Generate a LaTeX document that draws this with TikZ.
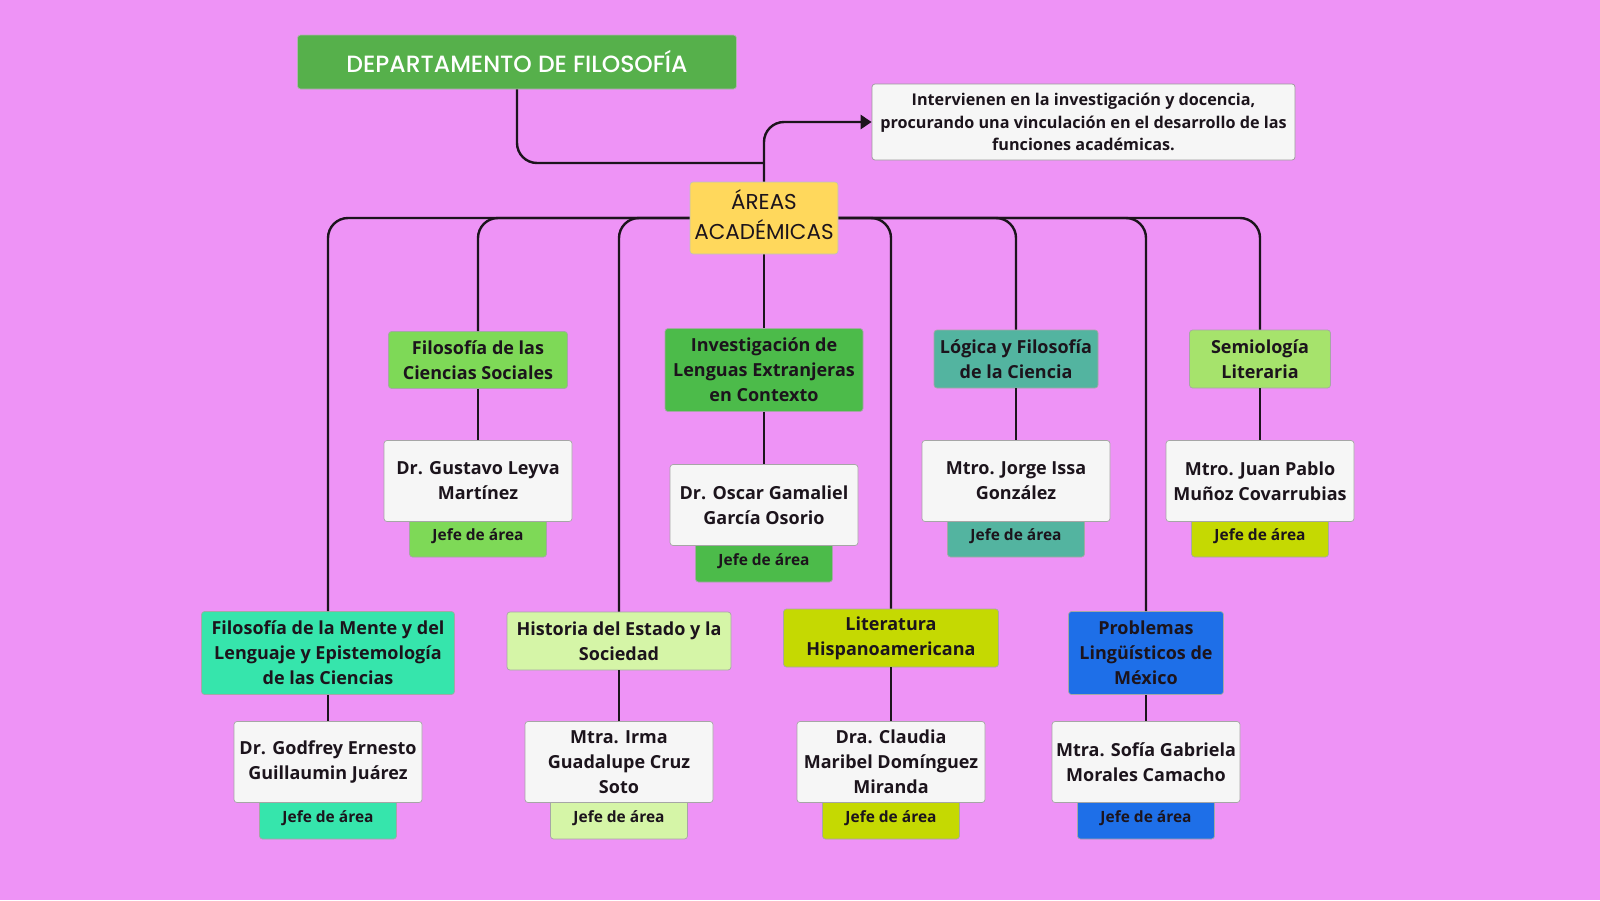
\documentclass[tikz,border=0pt]{standalone}
\usepackage{fontspec}
\setmainfont{Open Sans}
\newfontfamily\popfont{Poppins}
\newfontfamily\popmed{Poppins}[UprightFont={* Medium}]
\usetikzlibrary{arrows.meta}
\definecolor{bg}{HTML}{EE93F6}
\definecolor{titlegreen}{HTML}{56B04B}
\definecolor{areasyellow}{HTML}{FFD85C}
\definecolor{boxwhite}{HTML}{F6F6F6}
\definecolor{cA}{HTML}{7ED957}
\definecolor{cB}{HTML}{4CBB4A}
\definecolor{cC}{HTML}{53B4A0}
\definecolor{cD}{HTML}{A6E36C}
\definecolor{cE}{HTML}{36E5AC}
\definecolor{cF}{HTML}{D5F5A7}
\definecolor{cG}{HTML}{C5D902}
\definecolor{cH}{HTML}{1E6FE8}
\definecolor{ink}{HTML}{1C141C}
\tikzset{
  boxbase/.style={rounded corners=3pt, draw=black!35, line width=0.7pt, align=center, inner sep=0pt, text=ink},
  areabox/.style={boxbase, font=\bfseries\fontsize{18}{25}\selectfont},
  namebox/.style={boxbase, fill=boxwhite, minimum width=188pt, minimum height=81pt, font=\bfseries\fontsize{18}{25}\selectfont},
  tabbox/.style={boxbase, minimum width=137pt, minimum height=40pt, font=\bfseries\fontsize{15.5}{17}\selectfont, text depth=0pt},
  conn/.style={draw=ink, line width=2.4pt, rounded corners=20pt},
  sub/.style={draw=ink, line width=1.8pt},
}
\begin{document}
\begin{tikzpicture}[x=1pt,y=-1pt]
\useasboundingbox[fill=bg] (0,0) rectangle (1600,900);

% top nodes
\node[boxbase, fill=titlegreen, draw=black!30, minimum width=439pt, minimum height=54pt, text=white, font=\popmed\fontsize{23.5}{26}\selectfont] (title) at (517,62) {\raisebox{2pt}{DEPARTAMENTO DE FILOSOFÍA}};
\node[boxbase, fill=boxwhite, draw=black!40, minimum width=423pt, minimum height=76pt, font=\bfseries\fontsize{16.2}{22.5}\selectfont] (note) at (1083.5,122) {Intervienen en la investigación y docencia,\\procurando una vinculación en el desarrollo de las\\funciones académicas.};

% row 1 areas
\node[areabox, fill=cA, minimum width=179pt, minimum height=57pt] (a1) at (478,360) {Filosofía de las\\Ciencias Sociales};
\node[areabox, fill=cB, minimum width=198pt, minimum height=83pt] (a2) at (764,370) {Investigación de\\Lenguas Extranjeras\\en Contexto};
\node[areabox, fill=cC, minimum width=164pt, minimum height=58pt] (a3) at (1016,359) {Lógica y Filosofía\\de la Ciencia};
\node[areabox, fill=cD, minimum width=141pt, minimum height=58pt] (a4) at (1260,359) {Semiología\\Literaria};

% row 2 areas
\node[areabox, fill=cE, minimum width=253pt, minimum height=83pt] (b1) at (328,653) {Filosofía de la Mente y del\\Lenguaje y Epistemología\\de las Ciencias};
\node[areabox, fill=cF, minimum width=224pt, minimum height=58pt] (b2) at (619,641) {Historia del Estado y la\\Sociedad};
\node[areabox, fill=cG, minimum width=215pt, minimum height=58pt] (b3) at (891,638) {Literatura\\Hispanoamericana};
\node[areabox, fill=cH, minimum width=155pt, minimum height=83pt] (b4) at (1146,653) {Problemas\\Lingüísticos de\\México};

% tabs (behind name boxes)
\node[tabbox, fill=cA] (t1) at (478,537) {\raisebox{4pt}{Jefe de área}};
\node[tabbox, fill=cB] (t2) at (764,562) {\raisebox{4pt}{Jefe de área}};
\node[tabbox, fill=cC] (t3) at (1016,537) {\raisebox{4pt}{Jefe de área}};
\node[tabbox, fill=cG] (t4) at (1260,537) {\raisebox{4pt}{Jefe de área}};
\node[tabbox, fill=cE] (u1) at (328,819) {\raisebox{4pt}{Jefe de área}};
\node[tabbox, fill=cF] (u2) at (619,819) {\raisebox{4pt}{Jefe de área}};
\node[tabbox, fill=cG] (u3) at (891,819) {\raisebox{4pt}{Jefe de área}};
\node[tabbox, fill=cH] (u4) at (1146,819) {\raisebox{4pt}{Jefe de área}};

% row 1 names
\node[namebox] (n1) at (478,481) {Dr. Gustavo Leyva\\Martínez};
\node[namebox] (n2) at (764,505) {Dr. Oscar Gamaliel\\García Osorio};
\node[namebox] (n3) at (1016,481) {Mtro. Jorge Issa\\González};
\node[namebox] (n4) at (1260,481) {Mtro. Juan Pablo\\Muñoz Covarrubias};

% row 2 names
\node[namebox] (m1) at (328,762) {Dr. Godfrey Ernesto\\Guillaumin Juárez};
\node[namebox] (m2) at (619,762) {Mtra. Irma\\Guadalupe Cruz\\Soto};
\node[namebox] (m3) at (891,762) {Dra. Claudia\\Maribel Domínguez\\Miranda};
\node[namebox] (m4) at (1146,762) {Mtra. Sofía Gabriela\\Morales Camacho};

% connector anchor box (placeholder for geometry)
\node[minimum width=148pt, minimum height=72pt, inner sep=0pt] (areas) at (764,218) {};
\coordinate (j) at (areas.north |- 0,163);
\draw[conn] (title.south) |- (j);
\draw[conn, -{Triangle[length=11pt,width=14pt]}] (areas.north) |- (note.west);

\draw[conn] (areas.west) -| (b1.north);
\draw[conn] (areas.west) -| (a1.north);
\draw[conn] (areas.west) -| (b2.north);
\draw[conn] (areas.south) -- (a2.north);
\draw[conn] (areas.east) -| (b3.north);
\draw[conn] (areas.east) -| (a3.north);
\draw[conn] (areas.east) -| (b4.north);
\draw[conn] (areas.east) -| (a4.north);

\draw[sub] (a1.south) -- (n1.north);
\draw[sub] (a2.south) -- (n2.north);
\draw[sub] (a3.south) -- (n3.north);
\draw[sub] (a4.south) -- (n4.north);
\draw[sub] (b1.south) -- (m1.north);
\draw[sub] (b2.south) -- (m2.north);
\draw[sub] (b3.south) -- (m3.north);
\draw[sub] (b4.south) -- (m4.north);

% areas box drawn over the bus
\node[boxbase, fill=areasyellow, draw=black!25, minimum width=148pt, minimum height=72pt, font=\popfont\fontsize{21.5}{30}\selectfont] at (areas.center) {\raisebox{2pt}{\begin{tabular}{@{}c@{}}ÁREAS\\[0pt]ACADÉMICAS\end{tabular}}};
\end{tikzpicture}
\end{document}
